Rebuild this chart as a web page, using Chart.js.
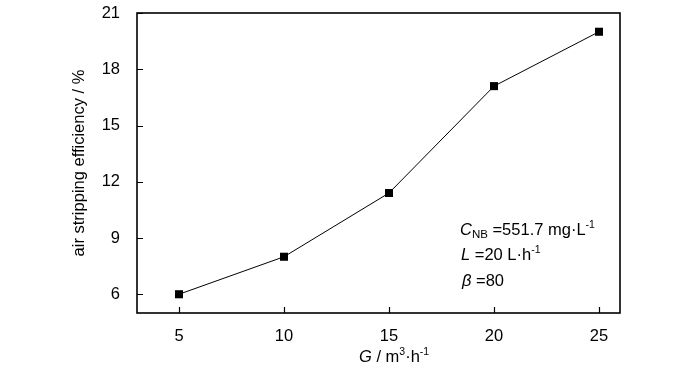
<!DOCTYPE html>
<html>
<head>
<meta charset="utf-8">
<script src="https://cdn.jsdelivr.net/npm/chart.js@4"></script>
<style>
  body { margin: 0; background: #fff; }
  canvas { display: block; }
</style>
</head>
<body>
<canvas id="chart" width="700" height="373"></canvas>
<script>
const gasFlow = [5, 10, 15, 20, 25];
const efficiency = [6.0, 8.0, 11.4, 17.1, 20.0];
const xTicks = [5, 10, 15, 20, 25];
const yTicks = [6, 9, 12, 15, 18, 21];

const FONT = "'Liberation Sans', Arial, sans-serif";

// draw a run of text pieces: [text, size, italic, dy]
function drawRuns(ctx, x, y, runs) {
  runs.forEach(([text, size, italic, dy]) => {
    ctx.font = (italic ? "italic " : "") + size + "px " + FONT;
    ctx.fillText(text, x, y + (dy || 0));
    x += ctx.measureText(text).width;
  });
}

const framePlugin = {
  id: "frame",
  afterDraw(chart) {
    const ctx = chart.ctx;
    const a = chart.chartArea;
    const xs = chart.scales.x;
    const ys = chart.scales.y;
    ctx.save();
    ctx.strokeStyle = "#000";
    ctx.lineWidth = 1.6;
    ctx.strokeRect(a.left, a.top, a.right - a.left, a.bottom - a.top);

    // inward tick marks
    ctx.lineWidth = 1.2;
    ctx.beginPath();
    xTicks.forEach((v) => {
      const px = Math.round(xs.getPixelForValue(v)) + 0.5;
      ctx.moveTo(px, a.bottom);
      ctx.lineTo(px, a.bottom - 6);
    });
    yTicks.forEach((v) => {
      const py = Math.round(ys.getPixelForValue(v)) + 0.5;
      ctx.moveTo(a.left, py);
      ctx.lineTo(a.left + 6, py);
    });
    ctx.stroke();

    ctx.fillStyle = "#000";
    ctx.textBaseline = "alphabetic";
    ctx.textAlign = "left";

    // conditions text
    drawRuns(ctx, 460, 235, [["C", 16.5, true], ["NB", 11.5, false, 3], [" =551.7 mg\u00b7L", 16.5, false], ["-1", 10.5, false, -7]]);
    drawRuns(ctx, 461, 260, [["L", 16.5, true], [" =20 L\u00b7h", 16.5, false], ["-1", 10.5, false, -7]]);
    drawRuns(ctx, 462, 286, [["\u03b2", 16.5, true], [" =80", 16.5, false]]);

    // x axis title
    drawRuns(ctx, 359, 362, [["G", 16.5, true], [" / m", 16.5, false], ["3", 10.5, false, -7], ["\u00b7h", 16.5, false], ["-1", 10.5, false, -7]]);
    ctx.restore();
  },
};

new Chart(document.getElementById("chart"), {
  type: "line",
  data: {
    labels: gasFlow,
    datasets: [
      {
        data: gasFlow.map((g, i) => ({ x: g, y: efficiency[i] })),
        borderColor: "#000",
        borderWidth: 1,
        pointStyle: "rect",
        pointRadius: 5.7,
        pointBackgroundColor: "#000",
        pointBorderWidth: 0,
        tension: 0,
      },
    ],
  },
  options: {
    responsive: false,
    animation: false,
    layout: { padding: { left: 0, top: 13, right: 80, bottom: 0 } },
    plugins: { legend: { display: false }, tooltip: { enabled: false } },
    scales: {
      x: {
        type: "linear",
        min: 3,
        max: 26,
        grid: { display: false },
        border: { display: false },
        afterBuildTicks: (scale) => {
          scale.ticks = xTicks.map((v) => ({ value: v }));
        },
        afterFit: (scale) => {
          scale.height = 60;
          scale.paddingLeft = 0;
          scale.paddingRight = 0;
        },
        ticks: {
          padding: 6,
          color: "#000",
          font: { family: FONT, size: 16.5 },
        },
      },
      y: {
        min: 5,
        max: 21,
        grid: { display: false },
        border: { display: false },
        afterBuildTicks: (scale) => {
          scale.ticks = yTicks.map((v) => ({ value: v }));
        },
        afterFit: (scale) => {
          scale.width = 137;
          scale.paddingTop = 0;
          scale.paddingBottom = 0;
        },
        ticks: {
          padding: 9,
          color: "#000",
          font: { family: FONT, size: 16.5 },
        },
        title: {
          display: true,
          text: "air stripping efficiency / %",
          color: "#000",
          font: { family: FONT, size: 16.5 },
          padding: { top: 70, bottom: 0 },
        },
      },
    },
  },
  plugins: [framePlugin],
});
</script>
</body>
</html>
